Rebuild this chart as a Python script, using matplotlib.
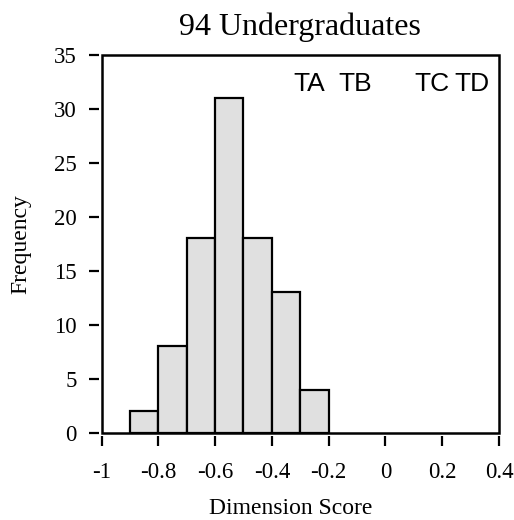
#!/usr/bin/env python3

import matplotlib.pyplot as plt
from matplotlib.patches import Rectangle

# histogram of dimension scores, 94 undergraduates
bin_left = [-0.9, -0.8, -0.7, -0.6, -0.5, -0.4, -0.3]
counts = [2, 8, 18, 31, 18, 13, 4]
bin_width = 0.1

xticks = [-1, -0.8, -0.6, -0.4, -0.2, 0, 0.2, 0.4]
xtick_labels = ["-1", "-0.8", "-0.6", "-0.4", "-0.2", "0", "0.2", "0.4"]
yticks = [0, 5, 10, 15, 20, 25, 30, 35]

tag_labels = ["TA", "TB", "TC", "TD"]

serif = ["Liberation Serif", "DejaVu Serif"]
sans = ["Liberation Sans", "DejaVu Sans"]

fig = plt.figure(figsize=(5.14, 5.20), dpi=100)
ax = fig.add_axes([101.5 / 514, 1 - 433 / 520, 397.5 / 514, 378.5 / 520])

ax.bar(bin_left, counts, width=bin_width, align="edge",
       color="#e0e0e0", edgecolor="black", linewidth=1.6, zorder=2)

ax.set_xlim(-1, 0.4)
ax.set_ylim(0, 35)

# ticks sit a little away from the frame
for side in ["left", "bottom"]:
    ax.spines[side].set_position(("outward", 2))
for side in ax.spines:
    ax.spines[side].set_visible(False)
ax.add_patch(Rectangle((0, 0), 1, 1, transform=ax.transAxes, fill=False,
                       edgecolor="black", linewidth=1.8, clip_on=False, zorder=5))

ax.set_xticks(xticks)
ax.set_xticklabels(xtick_labels)
ax.set_yticks(yticks)
ax.tick_params(direction="out", length=7.5, width=1.6, pad=8.5,
               labelsize=16.5, top=False, right=False)
ax.tick_params(axis="x", pad=11.5)
for lab in ax.get_xticklabels() + ax.get_yticklabels():
    lab.set_family(serif)

ax.set_title("94 Undergraduates", fontsize=23, family=serif, pad=14)
ax.set_xlabel("Dimension Score", fontsize=17, family=serif, labelpad=11, x=0.477)
ax.set_ylabel("Frequency", fontsize=17, family=serif, labelpad=16)

tag_x = [-0.268, -0.107, 0.164, 0.305]
for lab, x in zip(tag_labels, tag_x):
    ax.text(x, 31.67, lab, ha="center", va="baseline", fontsize=19, family=sans)

plt.savefig("out.png", dpi=100)
